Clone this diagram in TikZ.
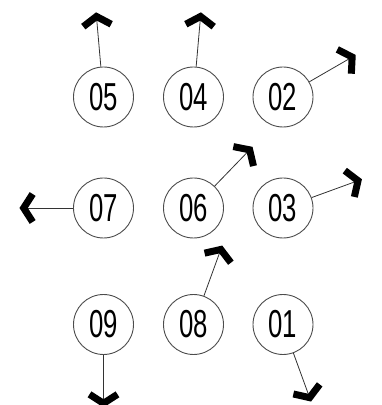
\documentclass[tikz,border=0pt]{standalone}
\usepackage{fontspec}
\newfontfamily\numfont[FakeStretch=0.66]{Liberation Sans}
\usetikzlibrary{arrows.meta}

\begin{document}
\begin{tikzpicture}[x=1pt, y=1pt,
        spot/.style={circle, draw=black!70, line width=0.9pt, minimum size=60pt, inner sep=0pt,
            font=\numfont\fontsize{39pt}{39pt}\selectfont},
        pointer/.style={draw=black!80, line width=0.8pt,
            -{Straight Barb[length=9pt, width=28pt, line width=7pt, color=black]}}]
        \useasboundingbox (0,0) rectangle (382,405);
        % label / x / y / angle / length
        \foreach \lbl/\x/\y/\ang/\len in {05/103.5/308/95/85, 04/193.5/308/85/85, 02/283/308/30/84,
                07/103.5/197/180/84, 06/193.5/197/46/85, 03/283/197/20/84,
                09/103.5/80.5/270/83, 08/193.5/80.5/70/84, 01/283/80.5/290/82} {
        \node[spot] (c\lbl) at (\x,\y) {\lbl};
        \path (c\lbl) ++(\ang:\len) coordinate (t\lbl);
        \draw[pointer] (c\lbl) -- (t\lbl);
        }
    \end{tikzpicture}
\end{document}
